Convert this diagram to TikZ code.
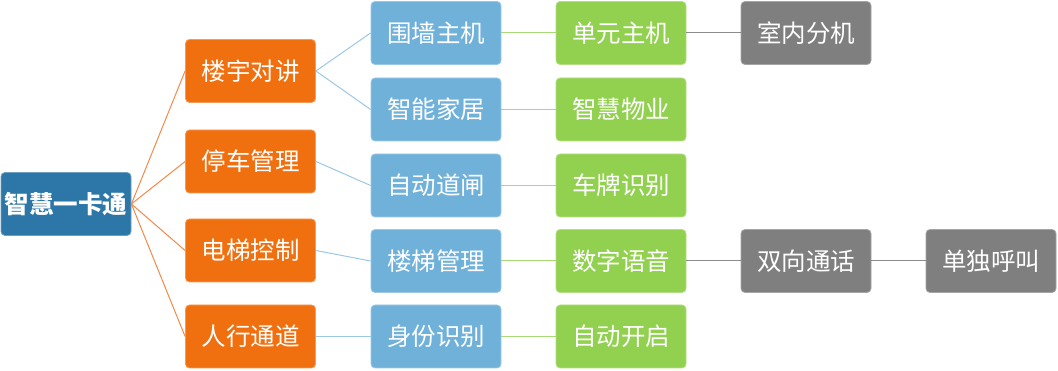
\documentclass[tikz,border=0pt]{standalone}
\usepackage{fontspec}
\setmainfont{Noto Sans CJK SC}
\definecolor{rootc}{HTML}{2C77A8}
\definecolor{orangec}{HTML}{F07010}
\definecolor{bluec}{HTML}{70B1DA}
\definecolor{greenc}{HTML}{92D050}
\definecolor{grayc}{HTML}{7F7F7F}
\definecolor{orangel}{HTML}{F28A4A}
\definecolor{bluel}{HTML}{9CC8E6}
\definecolor{greenl}{HTML}{A9DA78}
\definecolor{grayl}{HTML}{8C8C8C}
\tikzset{
  box/.style={rectangle, rounded corners=4pt, minimum width=130pt, minimum height=63pt,
    inner sep=0pt, text=white, font=\fontsize{24.5}{27}\selectfont, line width=0.8pt},
  rootbox/.style={box, fill=rootc, draw=rootc!70!white, font=\fontsize{24.5}{27}\selectfont\bfseries},
  obox/.style={box, fill=orangec, draw=orangec!70!white},
  bbox/.style={box, fill=bluec, draw=bluec!70!white},
  gbox/.style={box, fill=greenc, draw=greenc!70!white},
  kbox/.style={box, fill=grayc, draw=grayc!70!white},
  oline/.style={draw=orangel, line width=1pt},
  bline/.style={draw=bluel, line width=1pt},
  gline/.style={draw=greenl, line width=1pt},
  kline/.style={draw=grayl, line width=1pt}
}
\begin{document}
\begin{tikzpicture}[x=1pt,y=-1pt]
\useasboundingbox (0,0) rectangle (1058,371);
\node[rootbox] (root) at (66,204) {智慧一卡通};
\node[obox] (o1) at (250.5,71) {楼宇对讲};
\node[obox] (o2) at (250.5,161.5) {停车管理};
\node[obox] (o3) at (250.5,250.5) {电梯控制};
\node[obox] (o4) at (250.5,336.5) {人行通道};
\node[bbox] (b1) at (436,33) {围墙主机};
\node[bbox] (b2) at (436,109.5) {智能家居};
\node[bbox] (b3) at (436,185.5) {自动道闸};
\node[bbox] (b4) at (436,261) {楼梯管理};
\node[bbox] (b5) at (436,336.5) {身份识别};
\node[gbox] (g1) at (621,33) {单元主机};
\node[gbox] (g2) at (621,109.5) {智慧物业};
\node[gbox] (g3) at (621,185.5) {车牌识别};
\node[gbox] (g4) at (621,261) {数字语音};
\node[gbox] (g5) at (621,336.5) {自动开启};
\node[kbox] (k1) at (806,33) {室内分机};
\node[kbox] (k2) at (806,261) {双向通话};
\node[kbox] (k3) at (991,261) {单独呼叫};
\foreach \o in {o1,o2,o3,o4} \draw[oline] (root.east) -- (\o.west);
\draw[bline] (o1.east) -- (b1.west);
\draw[bline] (o1.east) -- (b2.west);
\draw[bline] (o2.east) -- (b3.west);
\draw[bline] (o3.east) -- (b4.west);
\draw[bline] (o4.east) -- (b5.west);
\foreach \i in {1,...,5} \draw[gline] (b\i.east) -- (g\i.west);
\draw[kline] (g1.east) -- (k1.west);
\draw[kline] (g4.east) -- (k2.west);
\draw[kline] (k2.east) -- (k3.west);
\end{tikzpicture}
\end{document}
